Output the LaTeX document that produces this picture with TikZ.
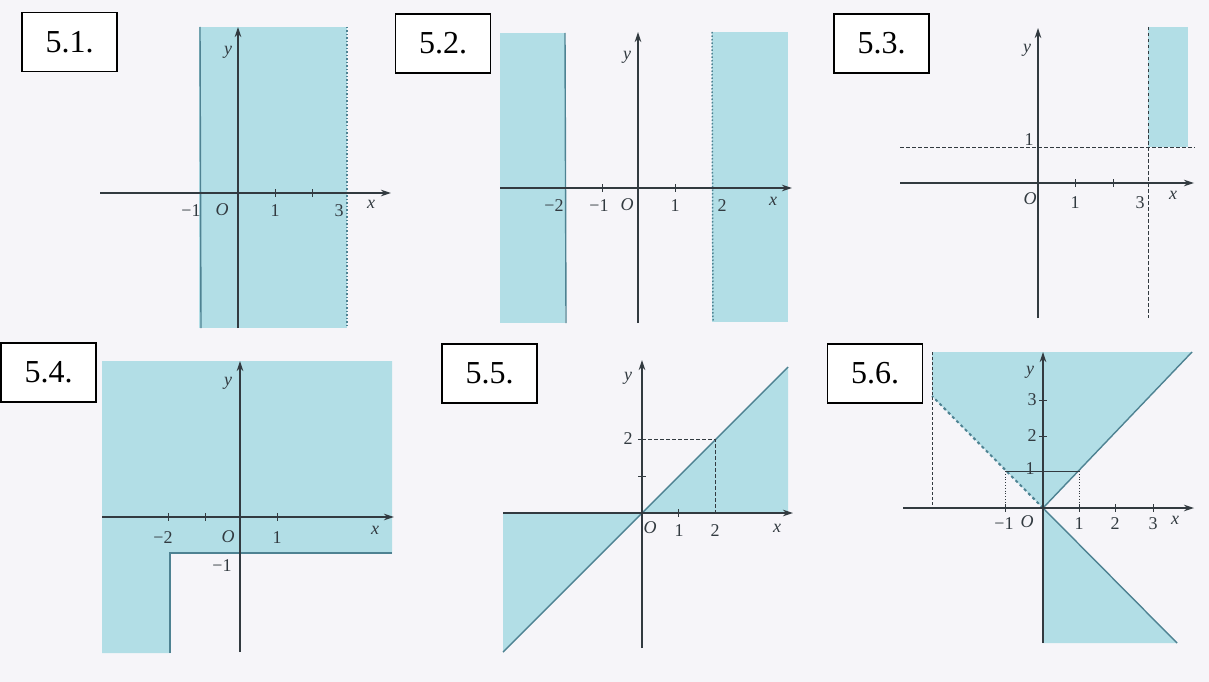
\documentclass[tikz,border=0pt]{standalone}
\usepackage{fontspec}
\setmainfont{Liberation Serif}
\usetikzlibrary{arrows.meta}
\definecolor{shade}{RGB}{178,222,230}
\definecolor{bnd}{RGB}{78,130,146}
\definecolor{axc}{RGB}{50,58,64}
\definecolor{bg}{RGB}{246,245,249}
\tikzset{
  axis/.style={draw=axc, line width=1.2pt, -{Stealth[length=10pt,width=6.5pt]}},
  bline/.style={draw=bnd, line width=1.4pt},
  dline/.style={draw=bnd, line width=1.5pt, dash pattern=on 1.5pt off 2pt},
  dashline/.style={draw=axc, line width=0.9pt, dash pattern=on 3.5pt off 2.5pt},
  tickm/.style={draw=axc, line width=1pt},
  lbl/.style={font=\fontsize{18}{18}\selectfont, text=axc, inner sep=0pt},
  ilbl/.style={lbl, font=\fontsize{18}{18}\selectfont\itshape},
  numbox/.style={draw=black, line width=1.8pt, fill=white, minimum width=95pt, minimum height=59pt, inner sep=0pt, font=\fontsize{32}{32}\selectfont},
  shadefill/.style={fill=shade, draw=none}
}
\begin{document}
\begin{tikzpicture}[x=1pt,y=-1pt]
\useasboundingbox (0,0) rectangle (1209,682);
\fill[bg] (0,0) rectangle (1209,682);

% ---------------- 5.1 ----------------
\fill[shadefill] (199,27) rectangle (347,328);
\coordinate (p1bt) at (200,27); \coordinate (p1bb) at (201,328);
\draw[bline] (p1bt) -- (p1bb);
\coordinate (p1dt) at (347,27); \coordinate (p1db) at (347,328);
\draw[dline] (p1dt) -- (p1db);
\coordinate (p1xl) at (100,193); \coordinate (p1xr) at (391,193);
\coordinate (p1yb) at (238,328); \coordinate (p1yt) at (238,27);
\draw[axis] (p1xl) -- (p1xr);
\draw[axis] (p1yb) -- (p1yt);
\foreach \t in {275,312} \draw[tickm] (\t,189) -- (\t,197);
\node[lbl] (p1m1) at (191,211) {−1};
\node[ilbl] (p1o) at (222,210) {O};
\node[lbl] (p1n1) at (275,211) {1};
\node[lbl] (p1n3) at (339,211) {3};
\node[ilbl] (p1x) at (371,204) {x};
\node[ilbl] (p1y) at (228,52) {y};
\node[numbox] (b1) at (69.5,42) {5.1.};

% ---------------- 5.2 ----------------
\fill[shadefill] (500,33) rectangle (565,323);
\fill[shadefill] (712,32) rectangle (788,322);
\coordinate (p2bt) at (565,33); \coordinate (p2bb) at (566,323);
\draw[bline] (p2bt) -- (p2bb);
\coordinate (p2dt) at (712,32); \coordinate (p2db) at (713,322);
\draw[dline] (p2dt) -- (p2db);
\coordinate (p2xl) at (500,188); \coordinate (p2xr) at (792,188);
\coordinate (p2yb) at (638,323); \coordinate (p2yt) at (638,32);
\draw[axis] (p2xl) -- (p2xr);
\draw[axis] (p2yb) -- (p2yt);
\foreach \t in {602,675} \draw[tickm] (\t,184) -- (\t,192);
\node[lbl] (p2m2) at (554,206) {−2};
\node[lbl] (p2m1) at (599,206) {−1};
\node[ilbl] (p2o) at (627,205) {O};
\node[lbl] (p2n1) at (675,206) {1};
\node[lbl] (p2n2) at (722,206) {2};
\node[ilbl] (p2x) at (773,201) {x};
\node[ilbl] (p2y) at (627,57) {y};
\node[numbox] (b2) at (443,43.5) {5.2.};

% ---------------- 5.3 ----------------
\fill[shadefill] (1148,27) rectangle (1188,147);
\coordinate (p3hl) at (900,147); \coordinate (p3hr) at (1195,147);
\draw[dashline] (p3hl) -- (p3hr);
\coordinate (p3vt) at (1148,27); \coordinate (p3vb) at (1148,318);
\draw[dashline] (p3vt) -- (p3vb);
\coordinate (p3xl) at (900,183); \coordinate (p3xr) at (1194,183);
\coordinate (p3yb) at (1038,318); \coordinate (p3yt) at (1038,28);
\draw[axis] (p3xl) -- (p3xr);
\draw[axis] (p3yb) -- (p3yt);
\foreach \t in {1075,1113} \draw[tickm] (\t,179) -- (\t,187);
\node[lbl] (p3y1) at (1029,140) {1};
\node[ilbl] (p3o) at (1030,199) {O};
\node[lbl] (p3n1) at (1075,203) {1};
\node[lbl] (p3n3) at (1140,203) {3};
\node[ilbl] (p3x) at (1173,195) {x};
\node[ilbl] (p3y) at (1027,50) {y};
\node[numbox] (b3) at (881.5,43.5) {5.3.};

% ---------------- 5.4 ----------------
\fill[shadefill] (102,361) -- (392,361) -- (392,553) -- (170,553) -- (170,653) -- (102,653) -- cycle;
\coordinate (p4r) at (392,553); \coordinate (p4c) at (170,553); \coordinate (p4b) at (170,653);
\draw[bline] (p4r) -- (p4c) -- (p4b);
\coordinate (p4xl) at (102,517); \coordinate (p4xr) at (394,517);
\coordinate (p4yb) at (240,652); \coordinate (p4yt) at (240,361);
\draw[axis] (p4xl) -- (p4xr);
\draw[axis] (p4yb) -- (p4yt);
\foreach \t in {168,205,277} \draw[tickm] (\t,513) -- (\t,521);
\node[lbl] (p4m2) at (163,538) {−2};
\node[ilbl] (p4o) at (228,537) {O};
\node[lbl] (p4n1) at (277,538) {1};
\node[ilbl] (p4x) at (375,530) {x};
\node[ilbl] (p4y) at (228,383) {y};
\node[lbl] (p4m1) at (222,566) {−1};
\node[numbox] (b4) at (48.5,372.5) {5.4.};

% ---------------- 5.5 ----------------
\fill[shadefill] (642,513) -- (788,367) -- (788,513) -- cycle;
\fill[shadefill] (503,513) -- (642,513) -- (503,652) -- cycle;
\coordinate (p5a) at (503,652); \coordinate (p5b) at (788,367);
\draw[bline] (p5a) -- (p5b);
\coordinate (p5d1) at (642,439); \coordinate (p5d2) at (715,439); \coordinate (p5d3) at (715,513);
\draw[dashline] (p5d1) -- (p5d2) -- (p5d3);
\coordinate (p5xl) at (503,513); \coordinate (p5xr) at (793,513);
\coordinate (p5yb) at (642,648); \coordinate (p5yt) at (642,360);
\coordinate (p5o) at (642,513);
\draw[bline] (p5xl) -- (p5o);
\draw[axis] (p5xl) -- (p5xr);
\draw[axis] (p5yb) -- (p5yt);
\draw[tickm] (638,476) -- (646,476);
\draw[tickm] (638,439) -- (646,439);
\draw[tickm] (678,509) -- (678,517);
\node[lbl] (p5y2) at (628,439) {2};
\node[ilbl] (p5oo) at (650,528) {O};
\node[lbl] (p5n1) at (679,531) {1};
\node[lbl] (p5n2) at (715,531) {2};
\node[ilbl] (p5x) at (777,528) {x};
\node[ilbl] (p5y) at (628,378) {y};
\node[numbox] (b5) at (489.5,373.5) {5.5.};

% ---------------- 5.6 ----------------
\fill[shadefill] (932,352) -- (1192,352) -- (1043,508) -- (932,396) -- cycle;
\fill[shadefill] (1043,508) -- (1043,643) -- (1177,643) -- cycle;
\coordinate (p6o) at (1043,508);
\coordinate (p6ur) at (1192,352); \coordinate (p6lr) at (1177,643);
\coordinate (p6ul) at (932,396);
\draw[bline] (p6o) -- (p6ur);
\draw[bline] (p6o) -- (p6lr);
\draw[draw=bnd, line width=2pt, dash pattern=on 3pt off 3pt] (p6o) -- (p6ul);
\coordinate (p6vt) at (932,352); \coordinate (p6vb) at (932,508);
\draw[draw=axc, line width=0.8pt, dash pattern=on 2.5pt off 2.5pt] (p6vt) -- (p6vb);
\coordinate (p6h1) at (1005,471); \coordinate (p6h2) at (1079,471);
\draw[draw=axc, line width=0.8pt] (p6h1) -- (p6h2);
\coordinate (p6a1) at (1005,508); \coordinate (p6a2) at (1079,508);
\draw[draw=axc, line width=0.8pt, dotted] (p6h1) -- (p6a1);
\draw[draw=axc, line width=0.8pt, dotted] (p6h2) -- (p6a2);
\coordinate (p6xl) at (903,508); \coordinate (p6xr) at (1194,508);
\coordinate (p6yb) at (1043,643); \coordinate (p6yt) at (1043,352);
\draw[axis] (p6xl) -- (p6xr);
\draw[axis] (p6yb) -- (p6yt);
\foreach \t in {1005,1079,1115,1153} \draw[tickm] (\t,504) -- (\t,512);
\foreach \t in {400,436,471} \draw[tickm] (1039,\t) -- (1047,\t);
\node[ilbl] (p6y) at (1030,372) {y};
\node[lbl] (p6y3) at (1032,400) {3};
\node[lbl] (p6y2) at (1032,436) {2};
\node[lbl] (p6y1) at (1030,469) {1};
\node[lbl] (p6m1) at (1004,524) {−1};
\node[ilbl] (p6oo) at (1027,522) {O};
\node[lbl] (p6n1) at (1079,524) {1};
\node[lbl] (p6n2) at (1115,524) {2};
\node[lbl] (p6n3) at (1153,524) {3};
\node[ilbl] (p6x) at (1175,520) {x};
\node[numbox] (b6) at (875,373.5) {5.6.};
\end{tikzpicture}
\end{document}
